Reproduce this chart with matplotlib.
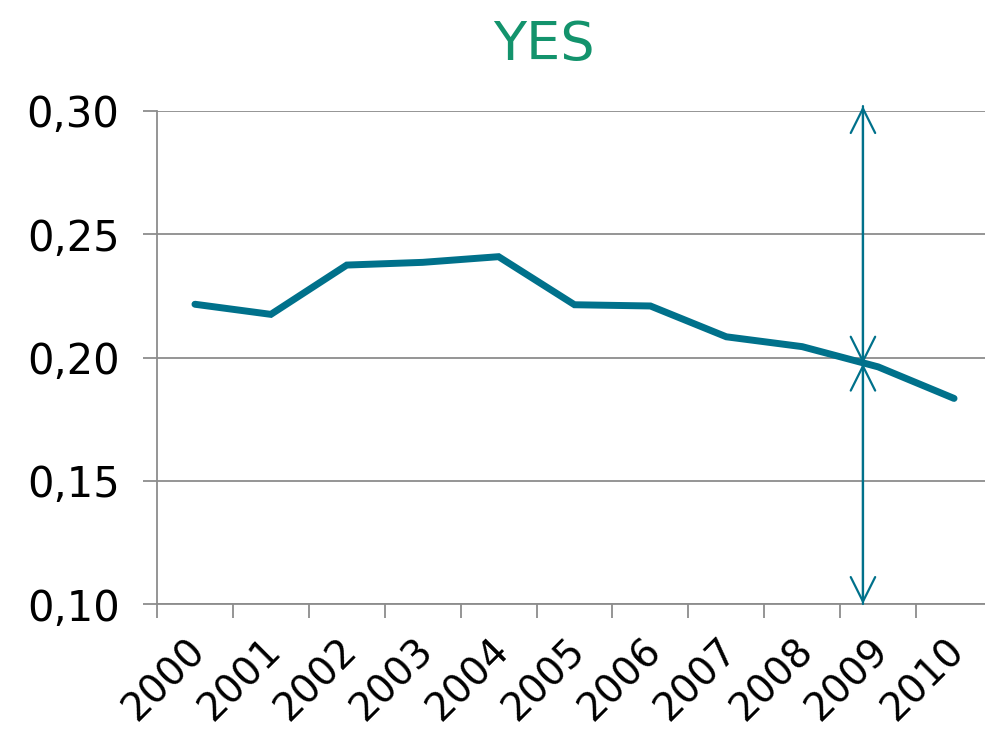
"""
Линейный график доли "YES" по годам с двойными стрелками у 2009 года; PNG.
"""

import matplotlib.pyplot as plt
import matplotlib.ticker as ticker
import matplotlib.transforms as mtransforms

years = ["2000", "2001", "2002", "2003", "2004", "2005",
         "2006", "2007", "2008", "2009", "2010"]
values = [0.2216, 0.2175, 0.2375, 0.2386, 0.2409, 0.2214,
          0.2209, 0.2084, 0.2044, 0.1962, 0.1834]
y_ticks = [0.10, 0.15, 0.20, 0.25, 0.30]
title = "YES"

# положение стрелок (индекс категории) и точка встречи
arrow_x = 8.8
arrow_mid = 0.1975
arrow_top = 0.302
arrow_bottom = 0.10

LINE_COLOR = "#00718b"
TITLE_COLOR = "#13936c"
GRID_COLOR = "#8c8c8c"

fig = plt.figure(figsize=(9.85, 7.38), dpi=100)
ax = fig.add_axes([157 / 985, 134 / 738, 835 / 985, 493 / 738])

x = list(range(len(years)))
ax.plot(x, values, color=LINE_COLOR, linewidth=5, solid_capstyle="round",
        solid_joinstyle="miter", zorder=3)

# двойные стрелки
arrow_style = dict(arrowstyle="->", color=LINE_COLOR, lw=1.6,
                   mutation_scale=44, shrinkA=0, shrinkB=0)
for y_end in (arrow_top, arrow_bottom):
    ax.annotate("", xy=(arrow_x, y_end), xytext=(arrow_x, arrow_mid),
                arrowprops=arrow_style, annotation_clip=False, zorder=4)
    ax.annotate("", xy=(arrow_x, arrow_mid), xytext=(arrow_x, y_end),
                arrowprops=arrow_style, annotation_clip=False, zorder=4)

ax.set_xlim(-0.5, len(years) - 0.5)
ax.set_ylim(0.10, 0.30)
ax.set_yticks(y_ticks)
ax.yaxis.set_major_formatter(
    ticker.FuncFormatter(lambda v, _: f"{v:.2f}".replace(".", ",")))
ax.grid(axis="y", color=GRID_COLOR, linewidth=1.3)
ax.set_axisbelow(True)

# метки категорий по центру, деления между категориями
ax.set_xticks(x)
ax.set_xticklabels(years, rotation=45, ha="right", va="top",
                   rotation_mode="anchor", fontsize=28)
ax.xaxis.set_minor_locator(ticker.FixedLocator([i - 0.5 for i in x]))
ax.tick_params(axis="x", which="major", length=0, pad=20)
ax.tick_params(axis="x", which="minor", length=10, width=1.3, color=GRID_COLOR)
ax.tick_params(axis="y", length=10, width=1.3, color=GRID_COLOR,
               labelsize=30, pad=17)

# сдвиг подписей годов немного влево
shift = mtransforms.ScaledTranslation(-9 / 100, 0, fig.dpi_scale_trans)
for label in ax.get_xticklabels():
    label.set_transform(label.get_transform() + shift)

for side in ("top", "right"):
    ax.spines[side].set_visible(False)
for side in ("left", "bottom"):
    ax.spines[side].set_color(GRID_COLOR)
    ax.spines[side].set_linewidth(1.3)

fig.text(544 / 985, 1 - 45 / 738, title, color=TITLE_COLOR, fontsize=39,
         ha="center", va="center")

fig.savefig("out.png", dpi=100)
plt.close(fig)
